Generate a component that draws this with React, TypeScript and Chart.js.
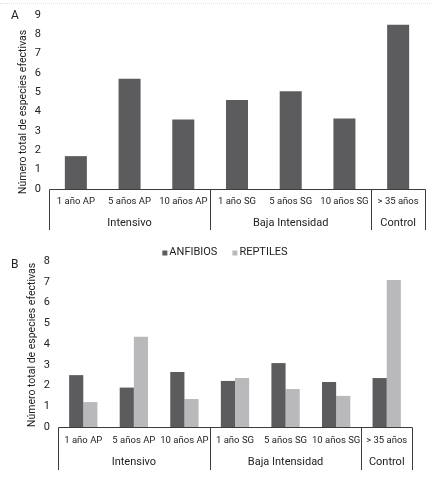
import { useEffect, useRef } from 'react';
import { Chart, registerables } from 'chart.js';

Chart.register(...registerables);

const categories = ['1 año AP', '5 años AP', '10 años AP', '1 año SG', '5 años SG', '10 años SG', '> 35 años'];
const groups = ['Intensivo', 'Baja Intensidad', 'Control'];
const groupSizes = [3, 3, 1];
const totalEspecies = [1.7, 5.7, 3.6, 4.6, 5.05, 3.65, 8.5];
const anfibios = [2.5, 1.9, 2.65, 2.22, 3.08, 2.17, 2.36];
const reptiles = [1.2, 4.35, 1.35, 2.36, 1.83, 1.5, 7.08];
const yTitle = 'Número total de especies efectivas';

const FONT = 'Roboto, "Noto Sans", sans-serif';
const DARK = '#5c5c5e';
const LIGHT = '#b9b9bb';
const TEXT = '#222222';
const LINE = '#3c3c3c';

// draws the two-level category box, the rotated y title and (optionally) the legend
const groupAxis = {
  id: 'groupAxis',
  afterDraw(chart: any, _args: any, opts: any) {
    const { ctx, chartArea } = chart;
    const x = chart.scales.x;
    const crisp = (v: number) => Math.round(v) + 0.5;
    const bottom = crisp(chartArea.bottom);
    ctx.save();
    ctx.strokeStyle = LINE;
    ctx.lineWidth = 1;
    ctx.beginPath();
    ctx.moveTo(crisp(x.getPixelForValue(-0.5)), bottom);
    ctx.lineTo(crisp(x.getPixelForValue(categories.length - 0.5)), bottom);
    let start = -0.5;
    const bounds = [start];
    groupSizes.forEach((n) => {
      start += n;
      bounds.push(start);
    });
    bounds.forEach((b) => {
      const px = crisp(x.getPixelForValue(b));
      ctx.moveTo(px, bottom);
      ctx.lineTo(px, opts.lineEnd);
    });
    ctx.stroke();

    ctx.fillStyle = TEXT;
    ctx.textAlign = 'center';
    ctx.textBaseline = 'middle';
    ctx.font = `11px ${FONT}`;
    groups.forEach((g, i) => {
      const cx = (x.getPixelForValue(bounds[i]) + x.getPixelForValue(bounds[i + 1])) / 2;
      ctx.fillText(g, cx, opts.groupY);
    });

    ctx.save();
    ctx.translate(opts.titleX, opts.titleY);
    ctx.rotate(-Math.PI / 2);
    ctx.font = `10.5px ${FONT}`;
    ctx.fillText(yTitle, 0, 0);
    ctx.restore();

    if (opts.legend) {
      ctx.font = `11px ${FONT}`;
      const box = 5;
      const gap = 2;
      const space = 15;
      const items = chart.data.datasets.map((d: any) => ({
        label: d.label,
        color: d.backgroundColor,
        w: box + gap + ctx.measureText(d.label).width,
      }));
      const total = items.reduce((s: number, it: any) => s + it.w, 0) + space * (items.length - 1);
      let lx = opts.legendX - total / 2;
      ctx.textAlign = 'left';
      items.forEach((it: any) => {
        ctx.fillStyle = it.color;
        ctx.fillRect(lx, opts.legendY - box / 2 + 1, box, box);
        ctx.fillStyle = TEXT;
        ctx.fillText(it.label, lx + box + gap, opts.legendY);
        lx += it.w + space;
      });
    }
    ctx.restore();
  },
};

interface PanelProps {
  letter: string;
  top: number;
  height: number;
  datasets: any[];
  yMax: number;
  pad: { top: number; right: number };
  yWidth: number;
  xHeight: number;
  tickPad: number;
  barPct: number;
  catPct: number;
  axisOpts: Record<string, any>;
  letterPos: { left: number; top: number };
}

function BarPanel(p: PanelProps) {
  const canvasRef = useRef<HTMLCanvasElement>(null);

  useEffect(() => {
    if (!canvasRef.current) return;
    const chart = new Chart(canvasRef.current, {
      type: 'bar',
      data: {
        labels: categories,
        datasets: p.datasets.map((d) => ({
          ...d,
          barPercentage: p.barPct,
          categoryPercentage: p.catPct,
          borderWidth: 0,
        })),
      },
      plugins: [groupAxis],
      options: {
        responsive: true,
        maintainAspectRatio: false,
        animation: false,
        layout: { padding: { left: 0, right: p.pad.right, top: p.pad.top, bottom: 0 } },
        plugins: {
          legend: { display: false },
          tooltip: { enabled: false },
          groupAxis: p.axisOpts,
        } as any,
        scales: {
          x: {
            grid: { display: false, drawTicks: false },
            border: { display: false },
            ticks: {
              autoSkip: false,
              maxRotation: 0,
              padding: p.tickPad,
              color: TEXT,
              font: { family: FONT, size: 9.5 },
            },
            afterFit: (s: any) => {
              s.height = p.xHeight;
            },
          },
          y: {
            min: 0,
            max: p.yMax,
            grid: { display: false, drawTicks: false },
            border: { display: false },
            ticks: {
              stepSize: 1,
              padding: 8,
              color: TEXT,
              font: { family: FONT, size: 11 },
            },
            afterFit: (s: any) => {
              s.width = p.yWidth;
            },
          },
        },
      },
    });
    return () => chart.destroy();
  }, []);

  return (
    <div style={{ position: 'absolute', left: 0, top: p.top, width: 445, height: p.height }}>
      <canvas ref={canvasRef}></canvas>
      <div
        style={{
          position: 'absolute',
          left: p.letterPos.left,
          top: p.letterPos.top,
          fontFamily: FONT,
          fontSize: 12,
          color: TEXT,
          lineHeight: '14px',
        }}
      >
        {p.letter}
      </div>
    </div>
  );
}

export default function App() {
  return (
    <div style={{ position: 'absolute', left: 0, top: 0, width: 445, height: 478, background: '#fff' }}>
      <div style={{ position: 'absolute', left: 0, top: 3, width: 432, borderTop: '1px dotted #e2e2e2' }} />
      <BarPanel
        letter="A"
        top={0}
        height={235}
        datasets={[{ label: 'Total', data: totalEspecies, backgroundColor: DARK }]}
        yMax={9}
        pad={{ top: 15, right: 20 }}
        yWidth={49}
        xHeight={46}
        tickPad={7}
        barPct={0.41}
        catPct={1}
        axisOpts={{ lineEnd: 230, groupY: 223, titleX: 23, titleY: 112, legend: false }}
        letterPos={{ left: 11, top: 8 }}
      />
      <BarPanel
        letter="B"
        top={235}
        height={243}
        datasets={[
          { label: 'ANFIBIOS', data: anfibios, backgroundColor: DARK },
          { label: 'REPTILES', data: reptiles, backgroundColor: LIGHT },
        ]}
        yMax={8}
        pad={{ top: 26, right: 33 }}
        yWidth={58}
        xHeight={51}
        tickPad={8}
        barPct={1}
        catPct={0.56}
        axisOpts={{ lineEnd: 235, groupY: 227, titleX: 32, titleY: 110, legend: true, legendX: 225, legendY: 17 }}
        letterPos={{ left: 11, top: 22 }}
      />
    </div>
  );
}
